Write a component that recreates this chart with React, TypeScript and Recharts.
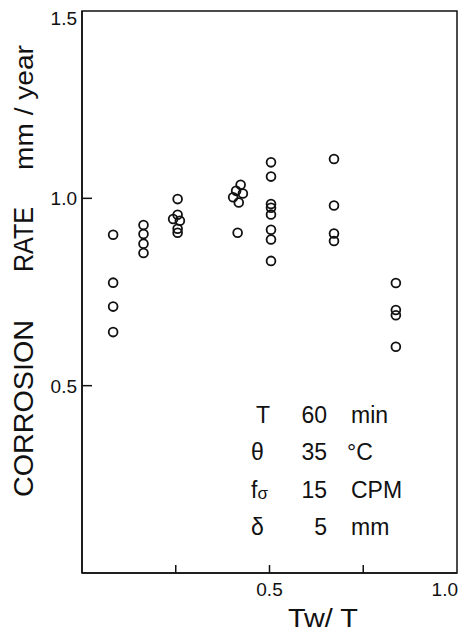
import React from 'react';
import { ScatterChart, Scatter, XAxis, YAxis, ReferenceArea, Customized } from 'recharts';

// Tw/T (time ratio) for each measured point
const twRatio = [
  0.083, 0.083, 0.083, 0.083,
  0.164, 0.164, 0.164, 0.164,
  0.255, 0.255, 0.243, 0.261, 0.255, 0.255,
  0.403, 0.411, 0.423, 0.429, 0.418, 0.415,
  0.504, 0.504, 0.504, 0.504, 0.504, 0.504, 0.504, 0.504,
  0.672, 0.672, 0.672, 0.672,
  0.837, 0.837, 0.837, 0.837,
];
// corrosion rate, mm/year
const corrosionRate = [
  0.903, 0.775, 0.711, 0.643,
  0.929, 0.905, 0.879, 0.854,
  0.998, 0.956, 0.945, 0.940, 0.919, 0.908,
  1.003, 1.020, 1.036, 1.013, 0.989, 0.908,
  1.096, 1.058, 0.985, 0.975, 0.957, 0.916, 0.890, 0.833,
  1.105, 0.981, 0.906, 0.886,
  0.774, 0.702, 0.688, 0.604,
];

const xTicks = [0.25, 0.5, 0.75, 1.0];
const xTickLabels: Record<string, string> = { '0.5': '0.5', '1': '1.0' };
const yTicks = [0.5, 1.0, 1.5];
const yTickLabels: Record<string, string> = { '0.5': '0.5', '1': '1.0', '1.5': '1.5' };

const conditionSymbols = ['T', 'θ', 'f', 'δ'];
const conditionValues = ['60', '35', '15', '5'];
const conditionUnits = ['min', '°C', 'CPM', 'mm'];

const data = twRatio.map((x, i) => ({ x, y: corrosionRate[i] }));

const FONT = '"Liberation Sans", Arial, sans-serif';
const INK = '#111';

const XTick = (props: any) => {
  const { x, y, payload } = props;
  const v = payload.value;
  const label = xTickLabels[String(v)];
  return (
    <g>
      {v < 1 && <line x1={x} y1={y} x2={x} y2={y - 8} stroke={INK} strokeWidth={1.5} />}
      {label && (
        <text x={v >= 1 ? x + 1 : x} y={y + 23} textAnchor={v >= 1 ? 'end' : 'middle'}
          fontFamily={FONT} fontSize={19} fill={INK}>{label}</text>
      )}
    </g>
  );
};

const YTick = (props: any) => {
  const { x, y, payload } = props;
  const v = payload.value;
  const label = yTickLabels[String(v)];
  return (
    <g>
      {v < 1.5 && <line x1={x} y1={y} x2={x + 10} y2={y} stroke={INK} strokeWidth={1.5} />}
      <text x={x - 5} y={(v >= 1.5 ? y + 7 : y) + 7} textAnchor="end"
        fontFamily={FONT} fontSize={19} fill={INK}>{label}</text>
    </g>
  );
};

const Circle = (props: any) => (
  <circle cx={props.cx} cy={props.cy} r={4.4} fill="none" stroke={INK} strokeWidth={1.8} />
);

const Annotations = () => {
  const rowY = [423, 460, 498, 535];
  return (
    <g fontFamily={FONT} fill={INK}>
      <g transform="translate(33,497) rotate(-90)">
        <text x={0} y={0} fontSize={28} textLength={177} lengthAdjust="spacingAndGlyphs">CORROSION</text>
        <text x={225} y={0} fontSize={28} textLength={65} lengthAdjust="spacingAndGlyphs">RATE</text>
        <text x={327} y={0} fontSize={26} textLength={125} lengthAdjust="spacingAndGlyphs">mm / year</text>
      </g>
      {conditionSymbols.map((s, i) => (
        <text key={'s' + i} x={s === 'T' ? 256 : 251} y={rowY[i]} fontSize={23}>
          {s}
          {s === 'f' && <tspan fontSize={17} dy={1}>σ</tspan>}
        </text>
      ))}
      {conditionValues.map((s, i) => (
        <text key={'v' + i} x={327} y={rowY[i]} fontSize={23} textAnchor="end">{s}</text>
      ))}
      {conditionUnits.map((s, i) => (
        <text key={'u' + i} x={s === '°C' ? 347 : 351} y={rowY[i]} fontSize={23}>{s}</text>
      ))}
      <text x={288} y={627} fontSize={25} textLength={70} lengthAdjust="spacingAndGlyphs">Tw/ T</text>
    </g>
  );
};

export default function App() {
  return (
    <div style={{ position: 'absolute', left: 0, top: 0, width: 459, height: 635, background: '#fff' }}>
      <ScatterChart width={459} height={635} margin={{ top: 11, right: 2, bottom: 22, left: 22 }}>
        <XAxis type="number" dataKey="x" domain={[0, 1]} ticks={xTicks} height={40}
          tickLine={false} tickSize={0} tickMargin={0} axisLine={{ stroke: INK, strokeWidth: 1.5 }}
          tick={XTick} interval={0} allowDataOverflow />
        <YAxis type="number" dataKey="y" domain={[0, 1.5]} ticks={yTicks} width={60}
          tickLine={false} tickSize={0} tickMargin={0} axisLine={{ stroke: INK, strokeWidth: 1.5 }}
          tick={YTick} interval={0} allowDataOverflow />
        <ReferenceArea x1={0} x2={1} y1={0} y2={1.5} fill="none" stroke={INK} strokeWidth={1.5} fillOpacity={0} ifOverflow="visible" />
        <Scatter data={data} shape={Circle} isAnimationActive={false} />
        <Customized component={Annotations} />
      </ScatterChart>
    </div>
  );
}
